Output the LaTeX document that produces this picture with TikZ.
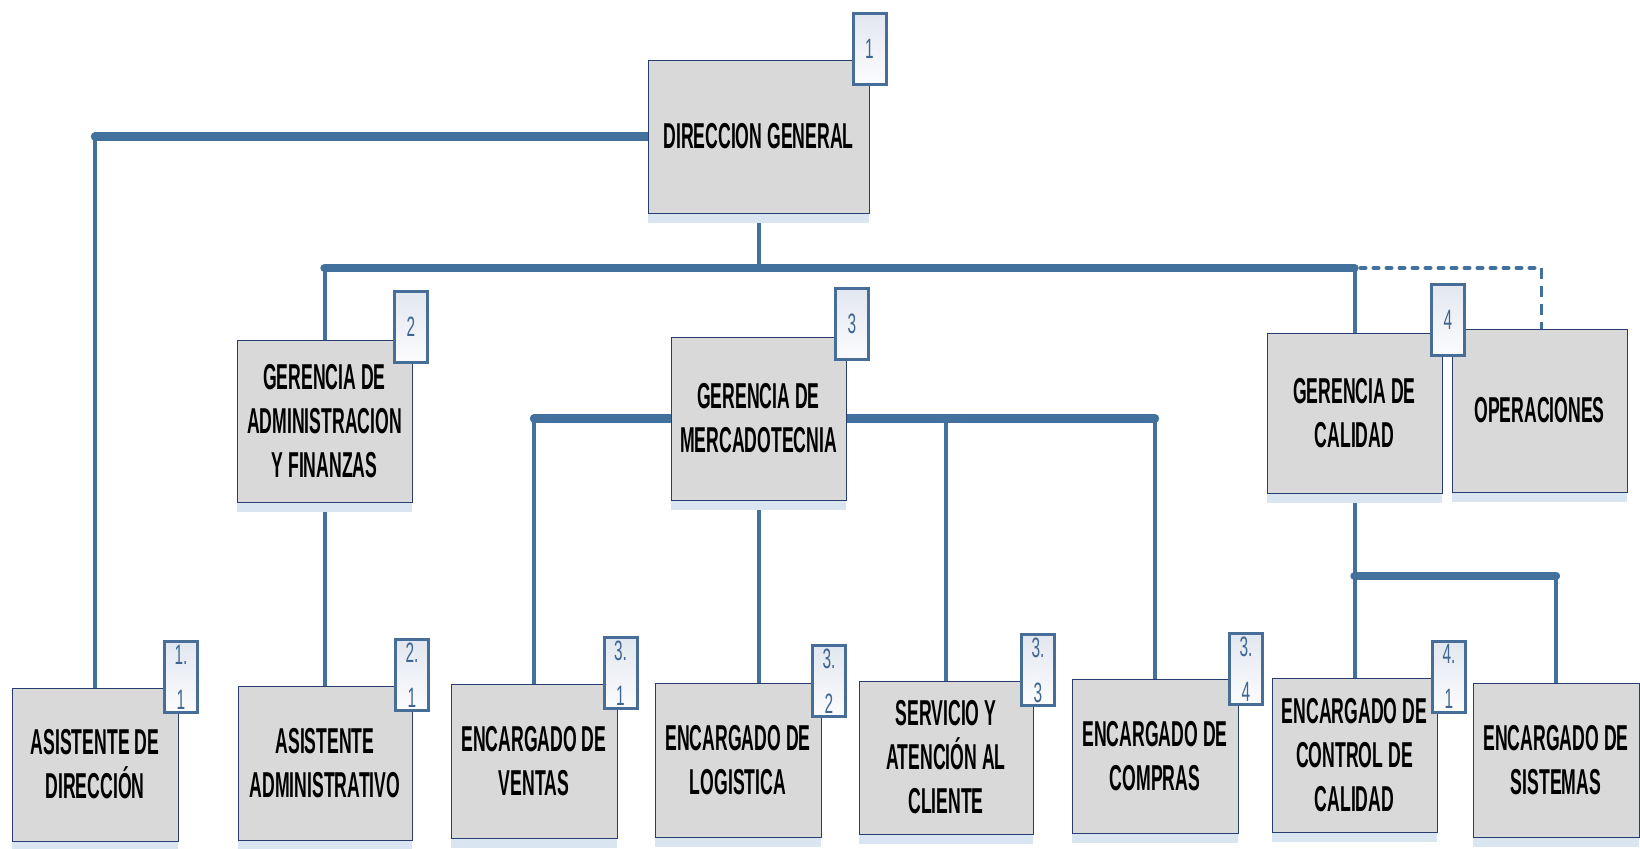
\documentclass[tikz,border=0pt]{standalone}
\usepackage{fontspec}
\setmainfont{Liberation Sans}
\newfontfamily\boxfont{Liberation Sans}[FakeStretch=0.49]
\newfontfamily\tagfont{Liberation Sans}[FakeStretch=0.55]
\usetikzlibrary{shadows}
\definecolor{linkblue}{RGB}{66,113,158}
\definecolor{boxfill}{RGB}{217,217,217}
\definecolor{boxedge}{RGB}{40,62,112}
\definecolor{shadowblue}{RGB}{218,229,242}
\definecolor{tagedge}{RGB}{70,110,152}
\definecolor{tagtext}{RGB}{62,102,146}
\definecolor{tagtop}{RGB}{226,231,239}
\definecolor{tagbottom}{RGB}{252,252,254}
\pgfdeclarelayer{paper}
\pgfdeclarelayer{links}
\pgfsetlayers{paper,links,main}
\begin{document}
\begin{tikzpicture}[x=0.5pt,y=-0.5pt,
  orgbox/.style n args={2}{draw=boxedge, line width=0.45pt, fill=boxfill,
    minimum width=#1*0.5pt, minimum height=#2*0.5pt, inner sep=0pt,
    align=center, font=\boxfont\bfseries\fontsize{18}{22}\selectfont,
    drop shadow={shadow xshift=0pt, shadow yshift=-5pt, fill=shadowblue, opacity=1}},
  tagbox/.style={draw=tagedge, line width=1.5pt, top color=tagtop, bottom color=tagbottom,
    minimum width=16.5pt, minimum height=35.5pt, inner sep=0pt, align=center,
    text=tagtext, font=\tagfont\fontsize{14}{22.5}\selectfont},
  thickline/.style={draw=linkblue, line width=4.2pt, line cap=round},
  thinline/.style={draw=linkblue, line width=2pt, line cap=round},
  dashline/.style={draw=linkblue, line width=2pt, line cap=round, dash pattern=on 2.5pt off 4pt},
  vdashline/.style={draw=linkblue, line width=1.8pt, dash pattern=on 5.5pt off 3.5pt}]
\begin{pgfonlayer}{paper}
\fill[white] (0,0) rectangle (1640,848);
\end{pgfonlayer}
\useasboundingbox (0,0) rectangle (1640,848);

% levels of the horizontal bars
\coordinate (busY) at (0,268);
\coordinate (calY) at (0,576);

% positions
\path
  node[orgbox={221}{153}] (dg)  at (758.5,136.5) {DIRECCION GENERAL}
  node[orgbox={175}{162}] (adm) at (324.5,421) {GERENCIA DE\\ADMINISTRACION\\Y FINANZAS}
  node[orgbox={175}{163}] (mkt) at (758.5,418.5) {GERENCIA DE\\MERCADOTECNIA}
  node[orgbox={175}{160}] (cal) at (1354.5,413) {GERENCIA DE\\CALIDAD}
  node[orgbox={175}{163}] (ope) at (1539.5,410.5) {OPERACIONES}
  node[orgbox={166}{153}] (asd) at (95,764.5) {ASISTENTE DE\\DIRECCIÓN}
  node[orgbox={174}{154}] (asa) at (325,763) {ASISTENTE\\ADMINISTRATIVO}
  node[orgbox={166}{154}] (ven) at (534,761) {ENCARGADO DE\\VENTAS}
  node[orgbox={166}{154}] (log) at (738,760) {ENCARGADO DE\\LOGISTICA}
  node[orgbox={174}{153}] (ser) at (946,757.5) {SERVICIO Y\\ATENCIÓN AL\\CLIENTE}
  node[orgbox={166}{154}] (com) at (1155,756) {ENCARGADO DE\\COMPRAS}
  node[orgbox={165}{154}] (ctl) at (1354.5,755) {ENCARGADO DE\\CONTROL DE\\CALIDAD}
  node[orgbox={166}{154}] (sis) at (1556,760) {ENCARGADO DE\\SISTEMAS};

\begin{pgfonlayer}{links}
% Direccion general to its assistant
\draw[thickline] (dg.west) -- (dg.west -| asd.north);
\draw[thinline] (dg.west -| asd.north) -- (asd.north);

% main bus under Direccion general
\draw[thinline] (dg.south) -- (dg.south |- busY);
\draw[thickline] (adm.north |- busY) -- (cal.north |- busY);
\draw[thinline] (adm.north |- busY) -- (adm.north);
\draw[thinline] (cal.north |- busY) -- (cal.north);
\draw[dashline] ([xshift=3pt]cal.north |- busY) -- ([xshift=1pt]ope.north |- busY);
\draw[vdashline] ([xshift=1pt]ope.north |- busY) -- ([xshift=1pt]ope.north);

% administracion
\draw[thinline] (adm.south) -- (adm.south |- asa.north);

% mercadotecnia
\draw[thinline] (mkt.south) -- (mkt.south |- log.north);
\draw[thickline] (mkt.west) -- (mkt.west -| ven.north);
\draw[thinline] (mkt.west -| ven.north) -- (ven.north);
\draw[thickline] (mkt.east) -- (mkt.east -| com.north);
\draw[thinline] (mkt.east -| com.north) -- (com.north);
\draw[thinline] (ser.north) -- (ser.north |- mkt.east);

% calidad
\draw[thinline] (cal.south) -- (ctl.north);
\draw[thickline] (cal.south |- calY) -- (sis.north |- calY);
\draw[thinline] (sis.north |- calY) -- (sis.north);
\end{pgfonlayer}

% number tags
\node[tagbox] (t1)  at (869.5,48.5) {1};
\node[tagbox] (t2)  at (411,327) {2};
\node[tagbox] (t3)  at (852,324) {3};
\node[tagbox] (t4)  at (1448,319.5) {4};
\node[tagbox] (t11) at (181,677) {1.\\1};
\node[tagbox] (t21) at (412,675) {2.\\1};
\node[tagbox] (t31) at (620.5,673) {3.\\1};
\node[tagbox] (t32) at (829,681) {3.\\2};
\node[tagbox] (t33) at (1038,670) {3.\\3};
\node[tagbox] (t34) at (1246,669) {3.\\4};
\node[tagbox] (t41) at (1449,676.5) {4.\\1};
\end{tikzpicture}
\end{document}
